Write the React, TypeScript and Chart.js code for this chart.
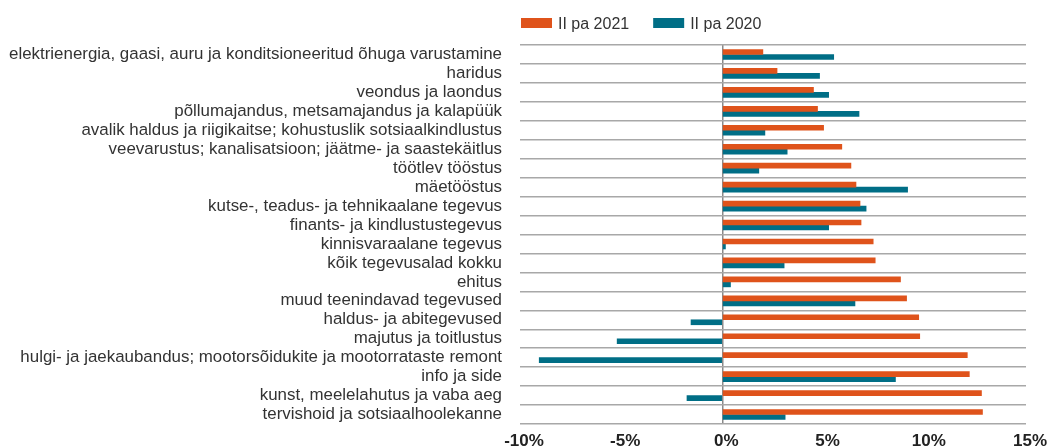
import React, { useEffect, useRef } from "react";
import { Chart, registerables } from "chart.js";

Chart.register(...registerables);

const categories: string[] = [
  "elektrienergia, gaasi, auru ja konditsioneeritud õhuga varustamine",
  "haridus",
  "veondus ja laondus",
  "põllumajandus, metsamajandus ja kalapüük",
  "avalik haldus ja riigikaitse; kohustuslik sotsiaalkindlustus",
  "veevarustus; kanalisatsioon; jäätme- ja saastekäitlus",
  "töötlev tööstus",
  "mäetööstus",
  "kutse-, teadus- ja tehnikaalane tegevus",
  "finants- ja kindlustustegevus",
  "kinnisvaraalane tegevus",
  "kõik tegevusalad kokku",
  "ehitus",
  "muud teenindavad tegevused",
  "haldus- ja abitegevused",
  "majutus ja toitlustus",
  "hulgi- ja jaekaubandus; mootorsõidukite ja mootorrataste remont",
  "info ja side",
  "kunst, meelelahutus ja vaba aeg",
  "tervishoid ja sotsiaalhoolekanne",
];

const series2021: number[] = [
  2.0, 2.7, 4.5, 4.7, 5.0, 5.9, 6.35, 6.6, 6.8, 6.85, 7.45, 7.55, 8.8, 9.1, 9.7, 9.75, 12.1, 12.2, 12.8, 12.85,
];

const series2020: number[] = [
  5.5, 4.8, 5.25, 6.75, 2.1, 3.2, 1.8, 9.15, 7.1, 5.25, 0.15, 3.05, 0.4, 6.55, -1.55, -5.2, -9.05, 8.55, -1.75, 3.1,
];

const seriesLabels: string[] = ["II pa 2021", "II pa 2020"];
const seriesColors: string[] = ["#DF531B", "#006E86"];

const xMin = -10;
const xMax = 15;
const xStep = 5;

const FONT = '"Liberation Sans", Arial, Helvetica, sans-serif';

const legendPlugin = {
  id: "customLegend",
  afterDraw(chart: any) {
    const { ctx, chartArea } = chart;
    ctx.save();
    ctx.font = `16px ${FONT}`;
    ctx.textBaseline = "alphabetic";
    ctx.textAlign = "left";
    let x = chartArea.left + 1;
    chart.data.datasets.forEach((ds: any) => {
      ctx.fillStyle = ds.backgroundColor;
      ctx.fillRect(x, 18, 31, 10);
      ctx.fillStyle = "#333333";
      ctx.fillText(ds.label, x + 37, 28.5);
      x += 37 + ctx.measureText(ds.label).width + 24;
    });
    ctx.restore();
  },
};

export default function App() {
  const canvasRef = useRef<HTMLCanvasElement | null>(null);

  useEffect(() => {
    if (!canvasRef.current) return;
    const chart = new Chart(canvasRef.current, {
      type: "bar",
      data: {
        labels: categories,
        datasets: [
          {
            label: seriesLabels[0],
            data: series2021,
            backgroundColor: seriesColors[0],
            borderWidth: 0,
            barThickness: 5,
          },
          {
            label: seriesLabels[1],
            data: series2020,
            backgroundColor: seriesColors[1],
            borderWidth: 0,
            barThickness: 5,
          },
        ],
      },
      options: {
        indexAxis: "y",
        responsive: false,
        animation: false,
        layout: { padding: { left: 8, right: 22, top: 45, bottom: 0 } },
        plugins: {
          legend: { display: false },
          tooltip: { enabled: false },
        },
        scales: {
          x: {
            min: xMin,
            max: xMax,
            border: { display: false },
            grid: {
              drawTicks: false,
              lineWidth: 1.5,
              color: (c: any) => (c.tick && c.tick.value === 0 ? "#8a8a8a" : "rgba(0,0,0,0)"),
            },
            ticks: {
              stepSize: xStep,
              padding: 7.5,
              labelOffset: 4,
              color: "#222222",
              font: { family: FONT, size: 17, weight: "bold" },
              callback: (v: any) => `${v}%`,
            },
            afterFit: (scale: any) => {
              scale.height = 23;
              scale.paddingLeft = 0;
              scale.paddingRight = 0;
            },
          },
          y: {
            border: { display: false },
            grid: {
              drawTicks: false,
              offset: true,
              color: "#a8a8a8",
              lineWidth: 1.5,
            },
            ticks: {
              padding: 18,
              color: "#333333",
              font: { family: FONT, size: 16.9 },
              autoSkip: false,
            },
            afterFit: (scale: any) => {
              scale.width = 512;
              scale.paddingTop = 0;
              scale.paddingBottom = 0;
            },
          },
        },
      },
      plugins: [legendPlugin],
    });
    return () => chart.destroy();
  }, []);

  return (
    <div style={{ position: "fixed", left: 0, top: 0, width: 1048, height: 447 }}>
      <canvas ref={canvasRef} width={1048} height={447} />
    </div>
  );
}
